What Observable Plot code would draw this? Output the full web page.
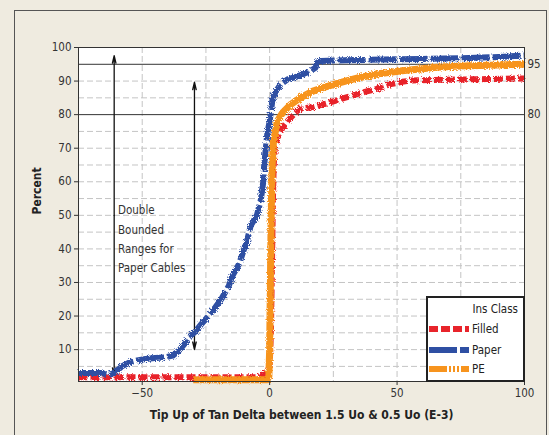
<!DOCTYPE html>
<html><head><meta charset="utf-8">
<script src="https://cdn.jsdelivr.net/npm/d3@7"></script>
<script src="https://cdn.jsdelivr.net/npm/@observablehq/plot@0.6"></script>
<style>
html,body{margin:0;padding:0;background:#efebe0;}
#wrap{position:relative;width:549px;height:435px;overflow:hidden;font-family:"DejaVu Sans Condensed","DejaVu Sans",sans-serif;}
#outer{position:absolute;left:14px;top:10px;width:533px;height:440px;border:1.5px solid #555;box-sizing:border-box;}
#chart{position:absolute;left:0;top:0;}
#legend{position:absolute;left:426px;top:296px;width:99px;height:86px;border:2px solid #222;background:#fff;box-sizing:border-box;font-size:11.5px;color:#222;}
#legend .title{position:absolute;right:5px;top:4px;}
#legend .row{position:absolute;left:1px;height:14px;display:flex;align-items:center;}
#legend .row span{margin-left:3px;}
</style>
</head><body>
<div id="wrap"><div id="outer"></div><div id="chart"></div><div id="legend"></div></div>
<script>
// ---- data ----
const filledX = [-75, -40, -10, -5, -3, -2, -1, 0, 0.5, 1, 1.3, 1.6, 2, 3, 5, 7, 10, 12, 17, 24, 30.4, 37, 42, 47, 52, 56, 70, 85, 100];
const filledY = [1.8, 1.8, 1.8, 1.8, 2.2, 3, 3.5, 5, 15, 40, 55, 65, 70, 73, 76, 78, 80.5, 81.8, 82.2, 83.7, 85.2, 86.7, 87.7, 89, 89.8, 90.2, 90.4, 90.6, 90.8];

const paperX = [-75, -66, -63, -61, -58, -55, -52, -48.7, -45, -41, -38, -35.6, -33, -31.7, -29, -26.6, -24, -21.3, -19, -16, -14.6, -12, -10, -9, -7.4, -5, -3.5, -2.5, -2.2, -1.5, -0.9, 0, 1.2, 2.5, 4.3, 7, 11, 16, 18, 18.8, 20, 30, 45, 60, 75, 90, 100];
const paperY = [3, 3, 2.5, 3, 5, 6.2, 6.8, 7.2, 7.5, 7.7, 8.2, 9.7, 12, 13.7, 15.5, 17.8, 20, 22.6, 25, 29, 32, 35.5, 40, 42, 47, 50, 54.4, 60, 64.3, 70, 74.4, 78, 85, 87, 89, 90.5, 91.4, 93, 94, 95.6, 96, 96.2, 96.4, 96.6, 96.8, 97.2, 97.6];

const peX = [-30, -20, -10, -5, -1, -0.3, 0, 0.3, 0.6, 1, 1.5, 3, 5, 8.2, 12, 17, 22, 28, 35, 42, 52, 65.6, 78.7, 90, 100];
const peY = [1.0, 1.0, 1.0, 1.0, 1.0, 2, 10, 30, 50, 65, 72, 78, 80.5, 83, 85, 87, 88.3, 89.6, 91, 92.1, 93.1, 94.1, 94.6, 94.8, 95];

const seriesNames = ["Filled", "Paper", "PE"];
const seriesColors = ["#e8242b", "#2e4fa3", "#f7941e"];
const seriesDash = ["9,3", "28,3", null];

const xTicks = [-50, 0, 50, 100];
const xGrid = [-50, -25, 0, 25, 50, 75];
const yTicks = [10, 20, 30, 40, 50, 60, 70, 80, 90, 100];
const yGrid = [5, 10, 15, 20, 25, 30, 35, 40, 45, 50, 55, 60, 65, 70, 75, 85, 90];
const refLines = [95, 80];

const arrowX = [-61, -29.5];
const arrowLo = [2.3, 10];
const arrowHi = [97.6, 89.7];

const annotText = ["Double\nBounded\nRanges for\nPaper Cables"];
const annotX = [-59.5];
const annotY = [43.5];

const xLabel = "Tip Up of Tan Delta between 1.5 Uo & 0.5 Uo (E-3)";
const yLabel = "Percent";

// ---- build ----
const allX = [filledX, paperX, peX];
const allY = [filledY, paperY, peY];
const rows = allX.map((xs, k) => xs.map((x, i) => ({x, y: allY[k][i], s: seriesNames[k]})));

const arrowRows = [];
arrowX.forEach((x, i) => {
  const mid = (arrowLo[i] + arrowHi[i]) / 2;
  arrowRows.push({x, y1: mid, y2: arrowLo[i]});
  arrowRows.push({x, y1: mid, y2: arrowHi[i]});
});

const font = '"DejaVu Sans Condensed","DejaVu Sans",sans-serif';

const lineMarks = rows.map((r, k) => Plot.line(r, {
  x: "x", y: "y", stroke: seriesColors[k], strokeWidth: k === 2 ? 7 : 6,
  strokeDasharray: seriesDash[k] || undefined, strokeLinejoin: "round", strokeLinecap: "butt"
}));

const plot = Plot.plot({
  width: 549, height: 435,
  marginLeft: 78, marginRight: 25, marginTop: 47, marginBottom: 54,
  style: {background: "transparent", fontFamily: font, fontSize: "11px", color: "#333", overflow: "visible"},
  x: {domain: [-75, 100]},
  y: {domain: [0.5, 100]},
  marks: [
    Plot.frame({fill: "white"}),
    Plot.gridX(xGrid, {stroke: "#c4c4c4", strokeOpacity: 1, strokeDasharray: "6,3"}),
    Plot.gridY(yGrid, {stroke: "#c4c4c4", strokeOpacity: 1, strokeDasharray: "6,3"}),
    Plot.ruleY(refLines, {stroke: "#333", strokeWidth: 1}),
    Plot.text(refLines, {x: () => 100, y: d => d, text: d => String(d), dx: 3, textAnchor: "start", fontSize: 11.5, fill: "#333"}),
    Plot.arrow(arrowRows, {x1: "x", x2: "x", y1: "y1", y2: "y2", stroke: "#111", strokeWidth: 1.3, headAngle: 26, headLength: 9}),
    Plot.text(annotText, {x: () => annotX[0], y: () => annotY[0], text: d => d, textAnchor: "start", lineHeight: 1.68, fontSize: 11.5, fill: "#333"}),
    ...lineMarks,
    Plot.frame({stroke: "#333", strokeWidth: 1}),
    Plot.axisX(xTicks, {tickSize: 4, label: null, tickPadding: 3, fontSize: 11.5}),
    Plot.axisY(yTicks, {tickSize: 4, label: null, tickPadding: 3, fontSize: 11.5}),
    Plot.text([xLabel], {frameAnchor: "bottom", dy: 37, text: d => d, fontWeight: "bold", fontSize: 12, fill: "#222"}),
    Plot.text([yLabel], {frameAnchor: "left", dx: -41, rotate: -90, text: d => d, fontWeight: "bold", fontSize: 12, fill: "#222"})
  ]
});

// roughness texture for the data strokes
const svg = d3.select(plot);
const defs = svg.insert("defs", ":first-child");
const f = defs.append("filter").attr("id", "rough").attr("filterUnits", "userSpaceOnUse")
  .attr("x", 0).attr("y", 0).attr("width", 549).attr("height", 435);
f.append("feTurbulence").attr("type", "fractalNoise").attr("baseFrequency", 0.9).attr("numOctaves", 1).attr("seed", 4).attr("result", "n");
f.append("feDisplacementMap").attr("in", "SourceGraphic").attr("in2", "n").attr("scale", 5);
svg.selectAll('g[aria-label="line"]').attr("filter", "url(#rough)");

document.getElementById("chart").appendChild(plot);

// legend
const lg = d3.select("#legend");
lg.append("div").attr("class", "title").text("Ins Class");
const rowTops = [24, 45, 64];
seriesNames.forEach((n, k) => {
  const r = lg.append("div").attr("class", "row").style("top", rowTops[k] + "px");
  const s = r.append("svg").attr("width", 40).attr("height", 10);
  s.append("line").attr("x1", 0).attr("x2", 40).attr("y1", 5).attr("y2", 5)
    .attr("stroke", seriesColors[k]).attr("stroke-width", 6)
    .attr("stroke-dasharray", seriesDash[k] || (k === 2 ? "18,2,2,2,2,2,2,2" : null));
  r.append("span").text(n);
});
</script>
</body></html>
